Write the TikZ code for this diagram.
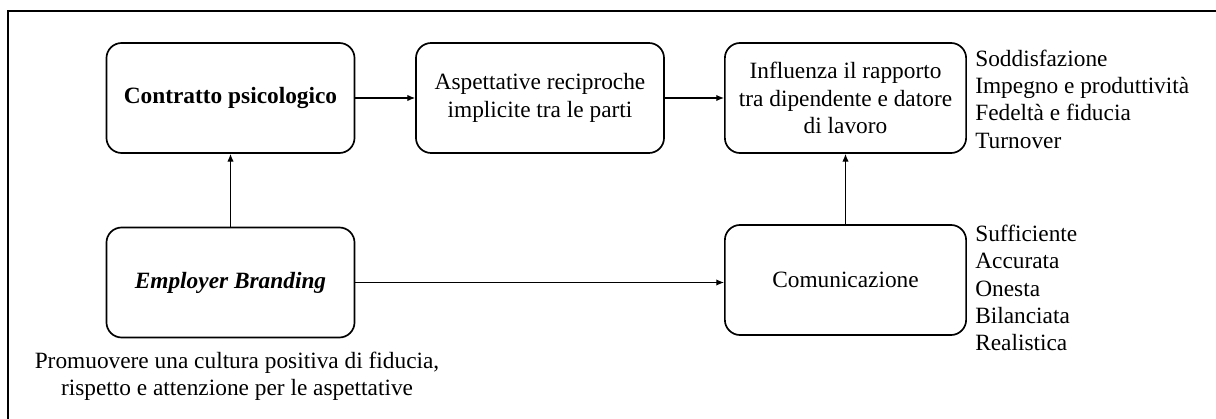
\documentclass[tikz,border=0pt]{standalone}
\usepackage{fontspec}
\setmainfont{Liberation Serif}
\usetikzlibrary{arrows.meta}
\tikzstyle{block}=[rectangle, rounded corners=0.38cm, draw=black, line width=1.2pt, minimum width=6.2cm, minimum height=2.75cm, align=center, inner sep=2pt]
\tikzstyle{narrow} = [block, minimum width=6.03cm]
\tikzstyle{note} = [align=left, inner sep=0pt]
\tikzstyle{edge} = [draw, line width=.8pt, -{Latex[length=5.5pt,width=4.5pt]}]
\tikzstyle{frame} = [draw, line width=1.4pt]

\begin{document}
\begin{tikzpicture}[x=0.025cm, y=-0.025cm, font=\fontsize{16.6}{19.4}\selectfont]

	\useasboundingbox (0,0) rectangle (1216,419);

	% open frame, cut by the page
	\coordinate (f_r) at (1216,11);
	\coordinate (f_c) at (8,11);
	\coordinate (f_b) at (8,419);
	\draw[frame] (f_r) -- (f_c) -- (f_b);

	\node[block] (contratto) at (230.5,98) {\textbf{Contratto psicologico}};
	\node[block] (aspett) at (540,98) {Aspettative reciproche\\implicite tra le parti};
	\node[narrow] (influenza) at (845.5,98) {Influenza il rapporto\\tra dipendente e datore\\di lavoro};

	\node[block] (branding) at (230.5,282.5) {\textbf{\textit{Employer Branding}}};
	\node[narrow] (comunic) at (845.5,280) {Comunicazione};

	\node[note] (effetti) [anchor=west] at (975,99) {Soddisfazione\\Impegno e produttività\\Fedeltà e fiducia\\Turnover};
	\node[note] (qualita) [anchor=west] at (975,288) {Sufficiente\\Accurata\\Onesta\\Bilanciata\\Realistica};
	\node[note, align=center] (promuovere) at (237,376) {Promuovere una cultura positiva di fiducia,\\rispetto e attenzione per le aspettative};

	\draw[edge] (contratto) -- (aspett);
	\draw[edge] (aspett) -- (influenza);
	\draw[edge] (branding) -- (contratto);
	\draw[edge] (comunic) -- (influenza);
	\draw[edge] (branding.east) -- (comunic.west |- branding.east);

\end{tikzpicture}
\end{document}
